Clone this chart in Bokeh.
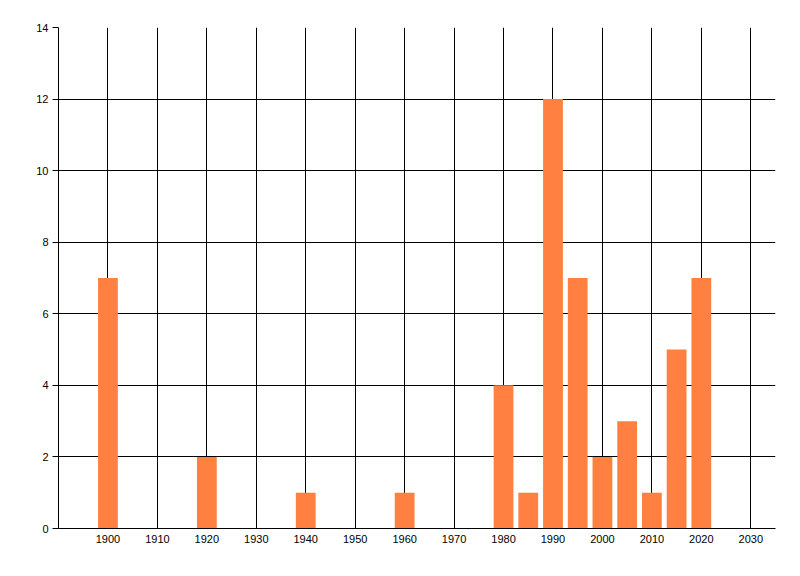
from bokeh.plotting import figure
from bokeh.models import FixedTicker, Range1d, ColumnDataSource
from bokeh.embed import file_html
from bokeh.resources import INLINE

years = [1900, 1920, 1940, 1960, 1980, 1985, 1990, 1995, 2000, 2005, 2010, 2015, 2020]
counts = [7, 2, 1, 1, 4, 1, 12, 7, 2, 3, 1, 5, 7]
x_ticks = [1900, 1910, 1920, 1930, 1940, 1950, 1960, 1970, 1980, 1990, 2000, 2010, 2020, 2030]
y_ticks = [0, 2, 4, 6, 8, 10, 12, 14]

src = ColumnDataSource(dict(year=years, count=counts))

p = figure(width=784, height=560, output_backend="svg", toolbar_location=None,
           x_range=Range1d(1890, 2035), y_range=Range1d(0, 14),
           min_border_left=58, min_border_right=9, min_border_top=27, min_border_bottom=32)
p.outline_line_color = None
p.background_fill_color = "white"
p.border_fill_color = "white"

p.vbar(x="year", top="count", width=4, source=src, fill_color="#FF8040", line_color=None)

for ax in (p.xaxis[0], p.yaxis[0]):
    ax.axis_line_color = "black"
    ax.axis_line_width = 1
    ax.major_tick_line_color = "black"
    ax.minor_tick_line_color = None
    ax.major_label_text_font = "Liberation Sans"
    ax.major_label_text_font_size = "11px"
    ax.major_label_text_color = "black"

p.xaxis[0].ticker = FixedTicker(ticks=x_ticks)
p.xaxis[0].major_tick_out = 0
p.xaxis[0].major_tick_in = 0
p.xaxis[0].major_label_standoff = 6
p.yaxis[0].ticker = FixedTicker(ticks=y_ticks)
p.yaxis[0].major_tick_out = 6
p.yaxis[0].major_tick_in = 0
p.yaxis[0].major_label_standoff = 4

p.xgrid[0].grid_line_color = "black"
p.xgrid[0].grid_line_width = 1
p.ygrid[0].grid_line_color = "black"
p.ygrid[0].grid_line_width = 1

open("out.html", "w").write(file_html(p, INLINE))
